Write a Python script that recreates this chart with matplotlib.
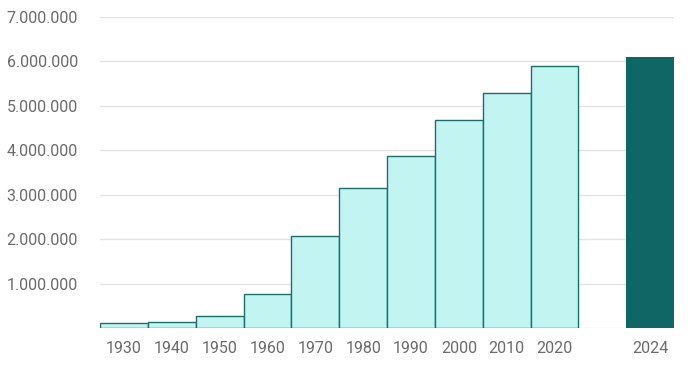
import matplotlib
matplotlib.use("Agg")
import matplotlib.pyplot as plt
import numpy as np

# decade values plus the current year
decades = ["1930", "1940", "1950", "1960", "1970", "1980", "1990", "2000", "2010", "2020"]
decade_values = [110000, 130000, 270000, 770000, 2070000, 3150000, 3870000, 4680000, 5290000, 5890000]
current_label = "2024"
current_value = 6100000
y_ticks = [0, 1000000, 2000000, 3000000, 4000000, 5000000, 6000000, 7000000]

LIGHT = "#c2f5f2"
EDGE = "#1b6e6c"
DARK = "#0f6665"
GRID = "#e3e3e6"
TEXT = "#6b6b6b"

plt.rcParams['font.family'] = ['Roboto', 'DejaVu Sans']

fig = plt.figure(figsize=(6.9, 3.69), dpi=100)
ax = fig.add_axes([0.145, 0.111, 0.832, 0.843])

x = np.arange(len(decades))
ax.bar(x, decade_values, width=1.0, color=LIGHT, edgecolor=EDGE, linewidth=1.0, zorder=3)
x_cur = len(decades) + 1
ax.bar([x_cur], [current_value], width=1.0, color=DARK, edgecolor=DARK, linewidth=0, zorder=3)

ax.set_xlim(-0.5, x_cur + 0.5)
ax.set_ylim(0, 7000000)
ax.set_xticks(list(x) + [x_cur])
ax.set_xticklabels(decades + [current_label])
ax.set_yticks(y_ticks)
ax.set_yticklabels(["" if v == 0 else f"{v:,}".replace(",", ".") for v in y_ticks])

ax.grid(axis='y', color=GRID, linewidth=1.0, zorder=0)
for s in ax.spines.values():
    s.set_visible(False)
ax.tick_params(axis='both', length=0, labelsize=11.5, labelcolor=TEXT)
ax.tick_params(axis='x', pad=9)
ax.tick_params(axis='y', pad=16)

fig.savefig("out.png", dpi=100)
